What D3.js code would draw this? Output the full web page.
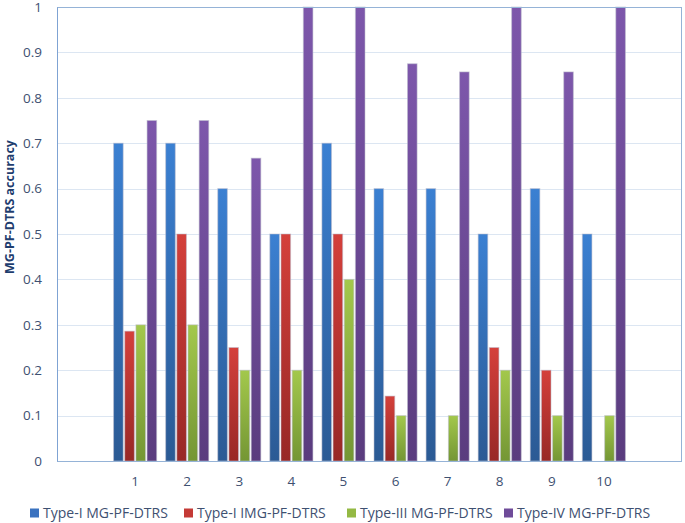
<!DOCTYPE html>
<html>
<head>
<meta charset="utf-8">
<script src="https://cdn.jsdelivr.net/npm/d3@7"></script>
<style>
  html, body { margin: 0; padding: 0; background: #fff; }
  svg { display: block; font-family: "Open Sans", sans-serif; }
</style>
</head>
<body>
<div id="chart"></div>
<script>
// categories along x (1..10), with an empty slot on each side like the original
const groups = ['1', '2', '3', '4', '5', '6', '7', '8', '9', '10'];
const seriesNames = ['Type-I MG-PF-DTRS', 'Type-I IMG-PF-DTRS', 'Type-III MG-PF-DTRS', 'Type-IV MG-PF-DTRS'];
const typeI   = [0.7, 0.7, 0.6, 0.5, 0.7, 0.6, 0.6, 0.5, 0.6, 0.5];
const typeIb  = [0.286, 0.5, 0.25, 0.5, 0.5, 0.143, 0, 0.25, 0.2, 0];
const typeIII = [0.3, 0.3, 0.2, 0.2, 0.4, 0.1, 0.1, 0.2, 0.1, 0.1];
const typeIV  = [0.75, 0.75, 0.667, 1, 1, 0.875, 0.857, 1, 0.857, 1];
const yTicks = [0, 0.1, 0.2, 0.3, 0.4, 0.5, 0.6, 0.7, 0.8, 0.9, 1];

const seriesValues = [typeI, typeIb, typeIII, typeIV];
const colors = [
  { top: '#3b80d2', bottom: '#2b5a94', key: '#3a72bf' },
  { top: '#d4403b', bottom: '#982826', key: '#c43a36' },
  { top: '#a3c84c', bottom: '#749634', key: '#94b944' },
  { top: '#7d57ab', bottom: '#5a3c7e', key: '#6f4b99' }
];

const width = 685, height = 523;
const margin = { top: 7, right: 3, bottom: 62, left: 57 };

const svg = d3.select('#chart').append('svg')
  .attr('width', width)
  .attr('height', height);

const defs = svg.append('defs');
colors.forEach((c, i) => {
  const g = defs.append('linearGradient')
    .attr('id', 'grad' + i)
    .attr('x1', 0).attr('y1', 0).attr('x2', 0).attr('y2', 1);
  g.append('stop').attr('offset', '0%').attr('stop-color', c.top);
  g.append('stop').attr('offset', '100%').attr('stop-color', c.bottom);
});

const domain = ['', ...groups, ' '];
const x0 = d3.scaleBand()
  .domain(domain)
  .range([margin.left, width - margin.right]);

const x1 = d3.scaleBand()
  .domain(d3.range(seriesNames.length))
  .range([4.5, x0.bandwidth() - 4.5])
  .paddingInner(0.14);

const y = d3.scaleLinear()
  .domain([0, 1])
  .range([height - margin.bottom, margin.top]);

// gridlines
svg.append('g')
  .selectAll('line')
  .data(yTicks)
  .enter()
  .append('line')
  .attr('x1', margin.left)
  .attr('x2', width - margin.right)
  .attr('y1', d => Math.round(y(d)) + 0.5)
  .attr('y2', d => Math.round(y(d)) + 0.5)
  .attr('stroke', '#dce6f2')
  .attr('stroke-width', 1);

// bars
const groupG = svg.append('g')
  .selectAll('g')
  .data(groups)
  .enter()
  .append('g')
  .attr('transform', d => `translate(${x0(d)},0)`);

groupG.selectAll('rect')
  .data((g, gi) => seriesValues.map((vals, si) => ({ si, v: vals[gi] })))
  .enter()
  .filter(d => d.v > 0)
  .append('rect')
  .attr('x', d => x1(d.si))
  .attr('width', x1.bandwidth())
  .attr('y', d => y(d.v))
  .attr('height', d => y(0) - y(d.v))
  .attr('fill', d => `url(#grad${d.si})`)
  .attr('stroke', 'rgba(190,190,205,0.55)')
  .attr('stroke-width', 1);

// plot frame
svg.append('rect')
  .attr('x', margin.left + 0.5)
  .attr('y', margin.top + 0.5)
  .attr('width', width - margin.left - margin.right - 1)
  .attr('height', height - margin.top - margin.bottom)
  .attr('fill', 'none')
  .attr('stroke', '#95b3d7')
  .attr('stroke-width', 1);

// y axis
const yAxis = svg.append('g')
  .attr('transform', `translate(${margin.left},0)`)
  .call(d3.axisLeft(y).tickValues(yTicks).tickSize(0).tickPadding(15)
    .tickFormat(d => d3.format('~g')(d)));
yAxis.select('.domain').attr('stroke', '#7fa3d3');
yAxis.selectAll('text')
  .attr('fill', '#3e5071')
  .attr('font-size', '13.5px')
  .attr('font-family', '"Open Sans", sans-serif');

// x axis
const xAxis = svg.append('g')
  .attr('transform', `translate(0,${y(0)})`)
  .call(d3.axisBottom(x0).tickValues(groups).tickSize(0).tickPadding(15));
xAxis.select('.domain').remove();
xAxis.selectAll('text')
  .attr('fill', '#3e5071')
  .attr('font-size', '13.5px')
  .attr('font-family', '"Open Sans", sans-serif');

// y title
svg.append('text')
  .attr('transform', 'translate(14,207) rotate(-90)')
  .attr('text-anchor', 'middle')
  .attr('fill', '#1f3d6e')
  .attr('font-size', '12.5px')
  .attr('font-weight', 'bold')
  .text('MG-PF-DTRS accuracy');

// legend
const legendX = [30, 184, 347, 504];
const legend = svg.append('g')
  .selectAll('g')
  .data(seriesNames)
  .enter()
  .append('g')
  .attr('transform', (d, i) => `translate(${legendX[i]},513)`);

legend.append('rect')
  .attr('x', 0)
  .attr('y', -4.5)
  .attr('width', 9)
  .attr('height', 9)
  .attr('fill', (d, i) => colors[i].key);

legend.append('text')
  .attr('x', 13)
  .attr('y', 0)
  .attr('dy', '0.35em')
  .attr('fill', '#3e5071')
  .attr('font-size', '14px')
  .text(d => d);
</script>
</body>
</html>
